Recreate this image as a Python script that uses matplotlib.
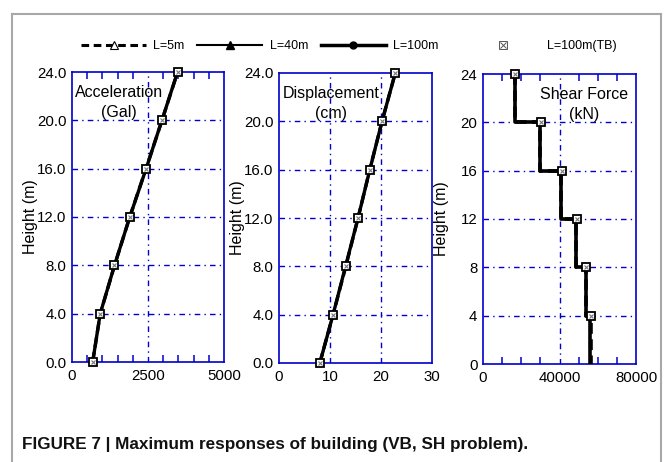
import matplotlib
matplotlib.use("Agg")
import matplotlib.pyplot as plt
from matplotlib.lines import Line2D
import numpy as np

plt.rcParams['font.family'] = ['Liberation Sans', 'DejaVu Sans']

heights = [0, 4, 8, 12, 16, 20, 24]
acc_L5 = [680, 930, 1400, 1900, 2435, 2960, 3475]
acc_L40 = [685, 925, 1395, 1905, 2440, 2955, 3470]
acc_L100 = [680, 928, 1398, 1900, 2438, 2958, 3472]
acc_TB = [675, 927, 1396, 1900, 2435, 2959, 3473]

disp_L5 = [8.0, 10.6, 13.1, 15.5, 17.8, 20.2, 22.8]
disp_L40 = [8.1, 10.6, 13.0, 15.5, 17.9, 20.2, 22.8]
disp_L100 = [8.0, 10.6, 13.05, 15.5, 17.8, 20.2, 22.8]
disp_TB = [8.0, 10.6, 13.05, 15.5, 17.8, 20.2, 22.8]

# story shear, stories from top (20-24) down to (0-4)
story_top = [24, 20, 16, 12, 8, 4]
story_bot = [20, 16, 12, 8, 4, 0]
shear_L5 = [16700, 30000, 41000, 48600, 53800, 56300]
shear_L40 = [16700, 29800, 40800, 48400, 53600, 55900]
shear_L100 = [16700, 29900, 40900, 48500, 53700, 56000]
shear_TB = [16700, 30300, 41400, 48900, 54000, 56500]

blue = '#0000cc'
TICK_FS = 10.8


def steps(vals):
    xs, ys = [], []
    for v, t, b in zip(vals, story_top, story_bot):
        xs += [v, v]
        ys += [t, b]
    return xs, ys


fig = plt.figure(figsize=(6.65, 4.62), dpi=100)
W, H = 665, 462


def ax_at(l, t, r, b):
    return fig.add_axes([l / W, 1 - b / H, (r - l) / W, (b - t) / H])


ax1 = ax_at(72, 72, 224, 362)
ax2 = ax_at(279, 73, 432, 363)
ax3 = ax_at(483, 74, 636, 364)


def style(ax, xlim, xticks, xlabels, minor, ylabels, grid_x, ylab_x):
    ax.set_xlim(*xlim)
    ax.set_ylim(0, 24)
    for s in ax.spines.values():
        s.set_color(blue)
        s.set_linewidth(1.2)
    ax.set_xticks(xticks)
    ax.set_xticklabels(xlabels)
    ax.set_yticks([0, 4, 8, 12, 16, 20, 24])
    ax.set_yticklabels(ylabels)
    if minor is not None:
        ax.set_xticks(minor, minor=True)
    ax.tick_params(axis='x', which='both', direction='in', top=True, length=5,
                   color=blue, width=1.1, labelsize=TICK_FS, pad=5)
    ax.tick_params(axis='x', which='major', length=0)
    ax.tick_params(axis='y', which='both', length=0, labelsize=TICK_FS, pad=4)
    for g in grid_x:
        ax.axvline(g, color=blue, lw=1.0, ls=(0, (4, 3, 1, 3)), zorder=1)
    for y in [4, 8, 12, 16, 20]:
        ax.axhline(y, color=blue, lw=1.0, ls=(0, (4, 3, 1, 3)), zorder=1)
    ax.set_ylabel('Height (m)', fontsize=11.5)
    ax.yaxis.set_label_coords(ylab_x, 0.5)


def tb(ax, x, y):
    ax.plot(x, y, ls='none', marker='s', ms=6, mfc='white', mec='black', mew=1.3, zorder=6, clip_on=False)
    ax.plot(x, y, ls='none', marker='x', ms=3.5, mec='#777777', mew=0.8, zorder=7, clip_on=False)


LBL_FS = 11.5
LBL_LS = 1.4

# Panel 1
style(ax1, (0, 5000), [0, 2500, 5000], ['0', '2500', '5000'],
      np.arange(500, 5000, 500), ['0.0', '4.0', '8.0', '12.0', '16.0', '20.0', '24.0'], [2500], -0.225)
ax1.plot(acc_L5, heights, color='black', lw=2.4, ls=(0, (3, 1.5)), zorder=3)
ax1.plot(acc_L40, heights, color='black', lw=1.5, zorder=4)
ax1.plot(acc_L100, heights, color='black', lw=2.4, zorder=5)
tb(ax1, acc_TB, heights)
ax1.text(0.31, 0.955, 'Acceleration\n(Gal)', transform=ax1.transAxes, ha='center', va='top',
         fontsize=LBL_FS, linespacing=LBL_LS)

# Panel 2
style(ax2, (0, 30), [0, 10, 20, 30], ['0', '10', '20', '30'], None,
      ['0.0', '4.0', '8.0', '12.0', '16.0', '20.0', '24.0'], [10, 20], -0.225)
ax2.plot(disp_L5, heights, color='black', lw=2.4, ls=(0, (3, 1.5)), zorder=3)
ax2.plot(disp_L40, heights, color='black', lw=1.5, zorder=4)
ax2.plot(disp_L100, heights, color='black', lw=2.4, zorder=5)
tb(ax2, disp_TB, heights)
ax2.text(0.34, 0.955, 'Displacement\n(cm)', transform=ax2.transAxes, ha='center', va='top',
         fontsize=LBL_FS, linespacing=LBL_LS)

# Panel 3
style(ax3, (0, 80000), [0, 40000, 80000], ['0', '40000', '80000'],
      np.arange(10000, 80000, 10000), ['0', '4', '8', '12', '16', '20', '24'], [40000], -0.22)
x, y = steps(shear_L5)
ax3.plot(x, y, color='black', lw=2.6, ls=(0, (3, 1.5)), zorder=3)
x, y = steps(shear_L40)
ax3.plot(x, y, color='black', lw=1.5, zorder=4)
x, y = steps(shear_L100)
ax3.plot(x, y, color='black', lw=2.6, zorder=5)
tb(ax3, shear_TB, story_top)
ax3.text(0.66, 0.955, 'Shear Force\n(kN)', transform=ax3.transAxes, ha='center', va='top',
         fontsize=LBL_FS, linespacing=LBL_LS)

# Legend
LEG_FS = 9
h1 = Line2D([], [], color='black', lw=2.2, ls=(0, (2.5, 1.5)), marker='^', ms=6, mfc='white', mec='black', mew=0.8)
h2 = Line2D([], [], color='black', lw=1.5, marker='^', ms=6, mfc='black', mec='black')
h3 = Line2D([], [], color='black', lw=2.5, marker='o', ms=5, mfc='black', mec='black')
leg1 = fig.legend([h1, h2, h3], ['L=5m', 'L=40m', 'L=100m'], ncol=3, frameon=False,
                  loc='center left', bbox_to_anchor=(81 / W, 1 - 46 / H), fontsize=LEG_FS,
                  handlelength=5.2, handletextpad=0.6, columnspacing=1.0, borderpad=0,
                  borderaxespad=0)
h4a = Line2D([], [], ls='none', marker='s', ms=6, mfc='white', mec='#555555', mew=0.7)
h4b = Line2D([], [], ls='none', marker='x', ms=4, mec='#555555', mew=0.7)
leg2 = fig.legend([(h4a, h4b)], ['L=100m(TB)'], frameon=False,
                  loc='center left', bbox_to_anchor=(471 / W, 1 - 46 / H), fontsize=LEG_FS,
                  handlelength=5.2, handletextpad=0.85, borderpad=0, borderaxespad=0)

# Frame
gray = '#a8a8a8'
fig.add_artist(Line2D([12 / W, 12 / W], [0, 1 - 14 / H], color=gray, lw=1.5, transform=fig.transFigure))
fig.add_artist(Line2D([12 / W, 661 / W], [1 - 14 / H, 1 - 14 / H], color=gray, lw=1.5, transform=fig.transFigure))
fig.add_artist(Line2D([661 / W, 661 / W], [0, 1 - 14 / H], color=gray, lw=1.5, transform=fig.transFigure))

fig.text(22 / W, 1 - 444 / H, 'FIGURE 7 | Maximum responses of building (VB, SH problem).',
         fontsize=12.3, fontweight='bold', va='center', ha='left', color='#111111')

fig.savefig('out.png', dpi=100)
